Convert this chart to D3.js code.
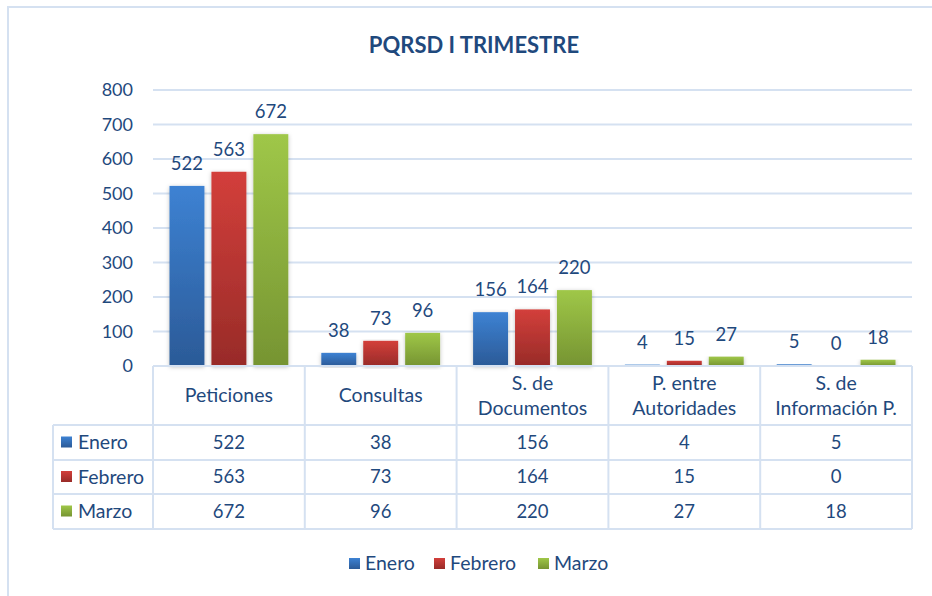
<!DOCTYPE html>
<html>
<head>
<meta charset="utf-8">
<script src="https://cdn.jsdelivr.net/npm/d3@7"></script>
<style>
  body { margin: 0; background: #fff; }
  svg text { font-family: Lato, "Open Sans", sans-serif; fill: #1F497D; }
</style>
</head>
<body>
<script>
const width  = 932;
const height = 596;

// data
const categories = [['Peticiones'], ['Consultas'], ['S. de', 'Documentos'], ['P. entre', 'Autoridades'], ['S. de', 'Información P.']];
const series     = ['Enero', 'Febrero', 'Marzo'];
const enero      = [522, 38, 156, 4, 5];
const febrero    = [563, 73, 164, 15, 0];
const marzo      = [672, 96, 220, 27, 18];
const yTicks     = [0, 100, 200, 300, 400, 500, 600, 700, 800];

const values = [enero, febrero, marzo];
const colors = [
  {top: '#3d82d3', bottom: '#2b5a97'},
  {top: '#d33f3b', bottom: '#982b28'},
  {top: '#9fc748', bottom: '#769432'}
];
const gridColor = '#d5e1f1';

const plot = {left: 153, right: 912, top: 90, bottom: 366};
const rowH = [59, 35, 34, 35];
const tableLeft = 53;

const svg = d3.select('body').append('svg')
  .attr('width', width)
  .attr('height', height);

const defs = svg.append('defs');
colors.forEach((c, i) => {
  const g = defs.append('linearGradient').attr('id', 'grad' + i)
    .attr('x1', 0).attr('y1', 0).attr('x2', 0).attr('y2', 1);
  g.append('stop').attr('offset', '0%').attr('stop-color', c.top);
  g.append('stop').attr('offset', '100%').attr('stop-color', c.bottom);
});
const shadow = defs.append('filter').attr('id', 'shadow')
  .attr('x', '-20%').attr('y', '-5%').attr('width', '140%').attr('height', '115%');
shadow.append('feDropShadow').attr('dx', 0).attr('dy', 1).attr('stdDeviation', 2)
  .attr('flood-color', '#000').attr('flood-opacity', 0.25);

// outer frame
svg.append('rect')
  .attr('x', 8).attr('y', 7).attr('width', 940).attr('height', 600)
  .attr('fill', 'none').attr('stroke', gridColor).attr('stroke-width', 2);

// title
svg.append('text')
  .attr('x', 474).attr('y', 53)
  .attr('text-anchor', 'middle')
  .style('font-size', '22px').style('font-weight', 'bold')
  .style('fill', '#1f497d')
  .text('PQRSD I TRIMESTRE');

const x = d3.scaleBand()
  .domain(d3.range(categories.length))
  .range([plot.left, plot.right]);

const xInner = d3.scaleBand()
  .domain(d3.range(series.length))
  .range([16.5, x.bandwidth() - 16.5])
  .paddingInner(0.167);

const y = d3.scaleLinear()
  .domain([0, 800])
  .range([plot.bottom, plot.top]);

// gridlines
svg.append('g').selectAll('line')
  .data(yTicks.slice(1))
  .join('line')
  .attr('x1', plot.left).attr('x2', plot.right)
  .attr('y1', d => y(d)).attr('y2', d => y(d))
  .attr('stroke', gridColor).attr('stroke-width', 2);

// y axis labels
svg.append('g').selectAll('text')
  .data(yTicks)
  .join('text')
  .attr('x', 133).attr('y', d => y(d))
  .attr('dy', '0.35em')
  .attr('text-anchor', 'end')
  .style('font-size', '18px')
  .text(d => d);

// bars
series.forEach((s, si) => {
  const g = svg.append('g');
  g.selectAll('rect')
    .data(values[si])
    .join('rect')
    .attr('x', (d, i) => x(i) + xInner(si))
    .attr('y', d => y(d))
    .attr('width', xInner.bandwidth())
    .attr('height', d => y(0) - y(d))
    .attr('fill', 'url(#grad' + si + ')')
    .attr('filter', 'url(#shadow)');
  g.selectAll('text')
    .data(values[si])
    .join('text')
    .attr('x', (d, i) => x(i) + xInner(si) + xInner.bandwidth() / 2)
    .attr('y', d => y(d) - 16)
    .attr('text-anchor', 'middle')
    .style('font-size', '18.5px')
    .text(d => d);
});

// data table
const rowY = [plot.bottom];
rowH.forEach(h => rowY.push(rowY[rowY.length - 1] + h));

const table = svg.append('g')
  .attr('stroke', gridColor).attr('stroke-width', 2);

table.append('line')
  .attr('x1', plot.left).attr('x2', plot.right)
  .attr('y1', plot.bottom).attr('y2', plot.bottom);
rowY.slice(1).forEach(yy => {
  table.append('line')
    .attr('x1', tableLeft).attr('x2', plot.right)
    .attr('y1', yy).attr('y2', yy);
});
d3.range(categories.length + 1).forEach(i => {
  const xx = i < categories.length ? x(i) : plot.right;
  table.append('line')
    .attr('x1', xx).attr('x2', xx)
    .attr('y1', plot.bottom).attr('y2', rowY[rowY.length - 1]);
});
table.append('line')
  .attr('x1', tableLeft).attr('x2', tableLeft)
  .attr('y1', rowY[1]).attr('y2', rowY[rowY.length - 1]);

// header labels
categories.forEach((lines, i) => {
  const cy = (rowY[0] + rowY[1]) / 2;
  const t = svg.append('text')
    .attr('x', x(i) + x.bandwidth() / 2)
    .attr('text-anchor', 'middle')
    .style('font-size', '19.5px');
  lines.forEach((ln, li) => {
    t.append('tspan')
      .attr('x', x(i) + x.bandwidth() / 2)
      .attr('y', cy + (li - (lines.length - 1) / 2) * 25)
      .attr('dy', '0.35em')
      .text(ln);
  });
});

// table rows
series.forEach((s, si) => {
  const cy = (rowY[si + 1] + rowY[si + 2]) / 2;
  svg.append('rect')
    .attr('x', 61).attr('y', cy - 6).attr('width', 11).attr('height', 11)
    .attr('fill', 'url(#grad' + si + ')');
  svg.append('text')
    .attr('x', 78).attr('y', cy).attr('dy', '0.35em')
    .style('font-size', '19.5px')
    .text(s);
  values[si].forEach((v, i) => {
    svg.append('text')
      .attr('x', x(i) + x.bandwidth() / 2).attr('y', cy).attr('dy', '0.35em')
      .attr('text-anchor', 'middle')
      .style('font-size', '18.5px')
      .text(v);
  });
});

// legend
const legendX = [349, 434, 538];
series.forEach((s, si) => {
  svg.append('rect')
    .attr('x', legendX[si]).attr('y', 558).attr('width', 11).attr('height', 11)
    .attr('fill', 'url(#grad' + si + ')');
  svg.append('text')
    .attr('x', legendX[si] + 16).attr('y', 563).attr('dy', '0.35em')
    .style('font-size', '19.5px')
    .text(s);
});
</script>
</body>
</html>
